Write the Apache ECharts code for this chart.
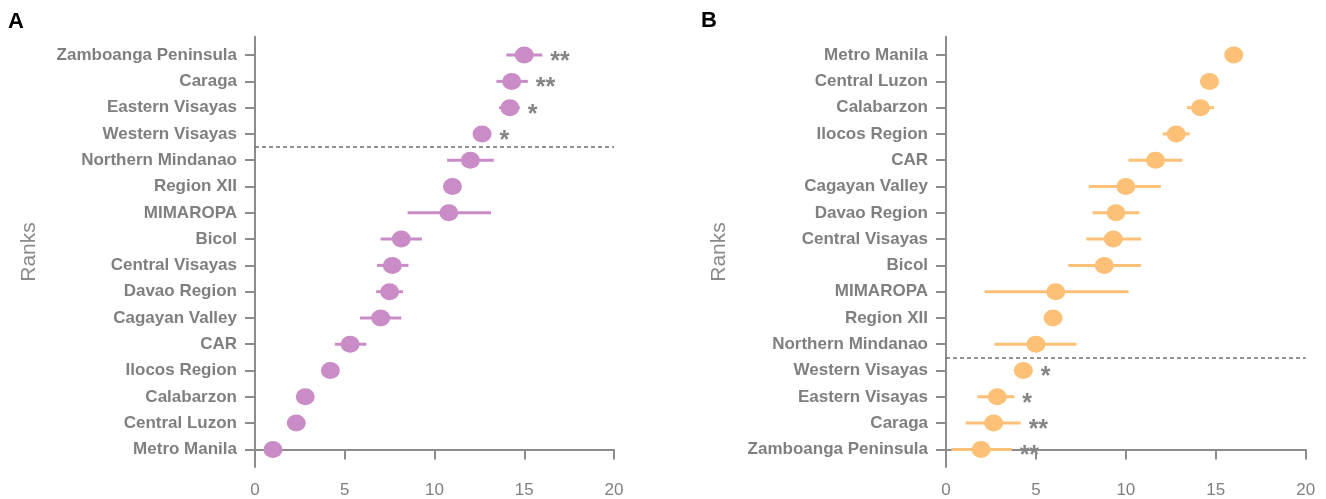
<!DOCTYPE html>
<html>
<head>
<meta charset="utf-8">
<script src="https://cdn.jsdelivr.net/npm/echarts@6/dist/echarts.min.js"></script>
<style>html,body{margin:0;padding:0;background:#fff}#c{width:1326px;height:499px}</style>
</head>
<body>
<div id="c"></div>
<script>
// Panel A (bottom to top)
const regionsA = ['Metro Manila','Central Luzon','Calabarzon','Ilocos Region','CAR','Cagayan Valley','Davao Region','Central Visayas','Bicol','MIMAROPA','Region XII','Northern Mindanao','Western Visayas','Eastern Visayas','Caraga','Zamboanga Peninsula'];
const meanA = [1.0, 2.3, 2.8, 4.2, 5.3, 7.0, 7.5, 7.65, 8.15, 10.8, 11.0, 12.0, 12.65, 14.2, 14.3, 15.0];
const lowA  = [1.0, 2.3, 2.8, 4.2, 4.45, 5.85, 6.75, 6.8, 7.0, 8.5, 11.0, 10.7, 12.4, 13.6, 13.45, 14.0];
const highA = [1.0, 2.3, 2.8, 4.2, 6.2, 8.15, 8.25, 8.55, 9.3, 13.15, 11.0, 13.3, 12.9, 14.75, 15.2, 16.0];
const starsA = ['','','','','','','','','','','','','*','*','**','**'];

// Panel B (bottom to top)
const regionsB = ['Zamboanga Peninsula','Caraga','Eastern Visayas','Western Visayas','Northern Mindanao','Region XII','MIMAROPA','Bicol','Central Visayas','Davao Region','Cagayan Valley','CAR','Ilocos Region','Calabarzon','Central Luzon','Metro Manila'];
const meanB = [1.95, 2.65, 2.85, 4.3, 5.0, 5.95, 6.1, 8.8, 9.3, 9.45, 10.0, 11.65, 12.8, 14.15, 14.65, 16.0];
const lowB  = [0.3, 1.1, 1.75, 3.8, 2.7, 5.95, 2.15, 6.8, 7.8, 8.15, 7.95, 10.15, 12.05, 13.4, 14.15, 16.0];
const highB = [3.65, 4.15, 3.8, 4.8, 7.25, 5.95, 10.15, 10.85, 10.85, 10.75, 11.95, 13.15, 13.55, 14.9, 15.1, 16.0];
const starsB = ['**','**','*','*','','','','','','','','','','','',''];

const xTicks = [0, 5, 10, 15, 20];
const cutA = 11.5, cutB = 3.5;

const FONT = "'Liberation Sans', Arial, sans-serif";
const PINK = '#c98cc6', ORANGE = '#fdc077';
const AX = '#8c8c8c', LBL = '#7f7f7f';
const idx = regionsA.map((_, i) => i);

function xAxis(gi) {
  return {
    type: 'value', gridIndex: gi, min: 0, max: 20, interval: 5,
    axisLine: {show: true, lineStyle: {color: AX, width: 2}},
    axisTick: {show: true, length: 10, lineStyle: {color: AX, width: 2}},
    axisLabel: {color: LBL, fontSize: 17, fontFamily: FONT, margin: 15,
      formatter: v => xTicks.includes(v) ? String(v) : ''},
    splitLine: {show: false}
  };
}
function yAxis(gi, names) {
  return {
    type: 'value', gridIndex: gi, min: -0.67, max: 15.7,
    axisLine: {show: true, onZero: false, lineStyle: {color: AX, width: 2}},
    axisTick: {show: true, length: 10, customValues: idx, lineStyle: {color: AX, width: 2}},
    axisLabel: {customValues: idx, color: LBL, fontSize: 17, fontWeight: 'bold', fontFamily: FONT, margin: 18,
      formatter: v => names[Math.round(v)] || ''},
    splitLine: {show: false}
  };
}
function errSeries(gi, mean, low, high, stars, color) {
  return {
    type: 'custom', xAxisIndex: gi, yAxisIndex: gi, z: 2, clip: false,
    data: low.map((l, i) => [l, high[i], i, mean[i]]),
    encode: {x: [0, 1], y: 2},
    renderItem: (params, api) => {
      const y = api.value(2);
      const p1 = api.coord([api.value(0), y]);
      const p2 = api.coord([api.value(1), y]);
      const pc = api.coord([api.value(3), y]);
      const ch = [];
      if (p2[0] - p1[0] > 0.5) {
        ch.push({type: 'line', shape: {x1: p1[0], y1: p1[1], x2: p2[0], y2: p2[1]},
          style: {stroke: color, lineWidth: 3}});
      }
      const s = stars[params.dataIndex];
      if (s) {
        ch.push({type: 'text', x: Math.max(p2[0], pc[0] + 9.5) + 8, y: pc[1] + 7, z2: 10,
          style: {text: s, fill: '#858585', font: 'bold 25px ' + FONT, textAlign: 'left', textVerticalAlign: 'middle'}});
      }
      return {type: 'group', children: ch};
    }
  };
}
function ptSeries(gi, mean, color, cut) {
  return {
    type: 'scatter', xAxisIndex: gi, yAxisIndex: gi, z: 3,
    symbol: 'circle', symbolSize: [19, 17],
    itemStyle: {color: color, opacity: 1},
    data: mean.map((m, i) => [m, i]),
    markLine: {
      silent: true, symbol: 'none', label: {show: false},
      lineStyle: {color: '#707070', width: 1.5, type: [4, 3]},
      data: [{yAxis: cut}]
    }
  };
}

const chart = echarts.init(document.getElementById('c'), null, {renderer: 'canvas'});
chart.setOption({
  animation: false,
  grid: [
    {left: 255, right: 712, top: 36.7, bottom: 31.3},
    {left: 946, right: 20.3, top: 36.7, bottom: 31.3}
  ],
  xAxis: [xAxis(0), xAxis(1)],
  yAxis: [yAxis(0, regionsA), yAxis(1, regionsB)],
  series: [
    errSeries(0, meanA, lowA, highA, starsA, PINK),
    ptSeries(0, meanA, PINK, cutA),
    errSeries(1, meanB, lowB, highB, starsB, ORANGE),
    ptSeries(1, meanB, ORANGE, cutB)
  ],
  graphic: [
    {type: 'text', x: 8, y: 22, style: {text: 'A', font: 'bold 22px ' + FONT, fill: '#000', textVerticalAlign: 'middle'}},
    {type: 'text', x: 701, y: 20.5, style: {text: 'B', font: 'bold 22px ' + FONT, fill: '#000', textVerticalAlign: 'middle'}},
    {type: 'text', x: 29, y: 252, rotation: Math.PI / 2,
      style: {text: 'Ranks', font: '21px ' + FONT, fill: '#8a8a8a', textAlign: 'center', textVerticalAlign: 'middle'}},
    {type: 'text', x: 719, y: 252, rotation: Math.PI / 2,
      style: {text: 'Ranks', font: '21px ' + FONT, fill: '#8a8a8a', textAlign: 'center', textVerticalAlign: 'middle'}}
  ]
});
</script>
</body>
</html>
